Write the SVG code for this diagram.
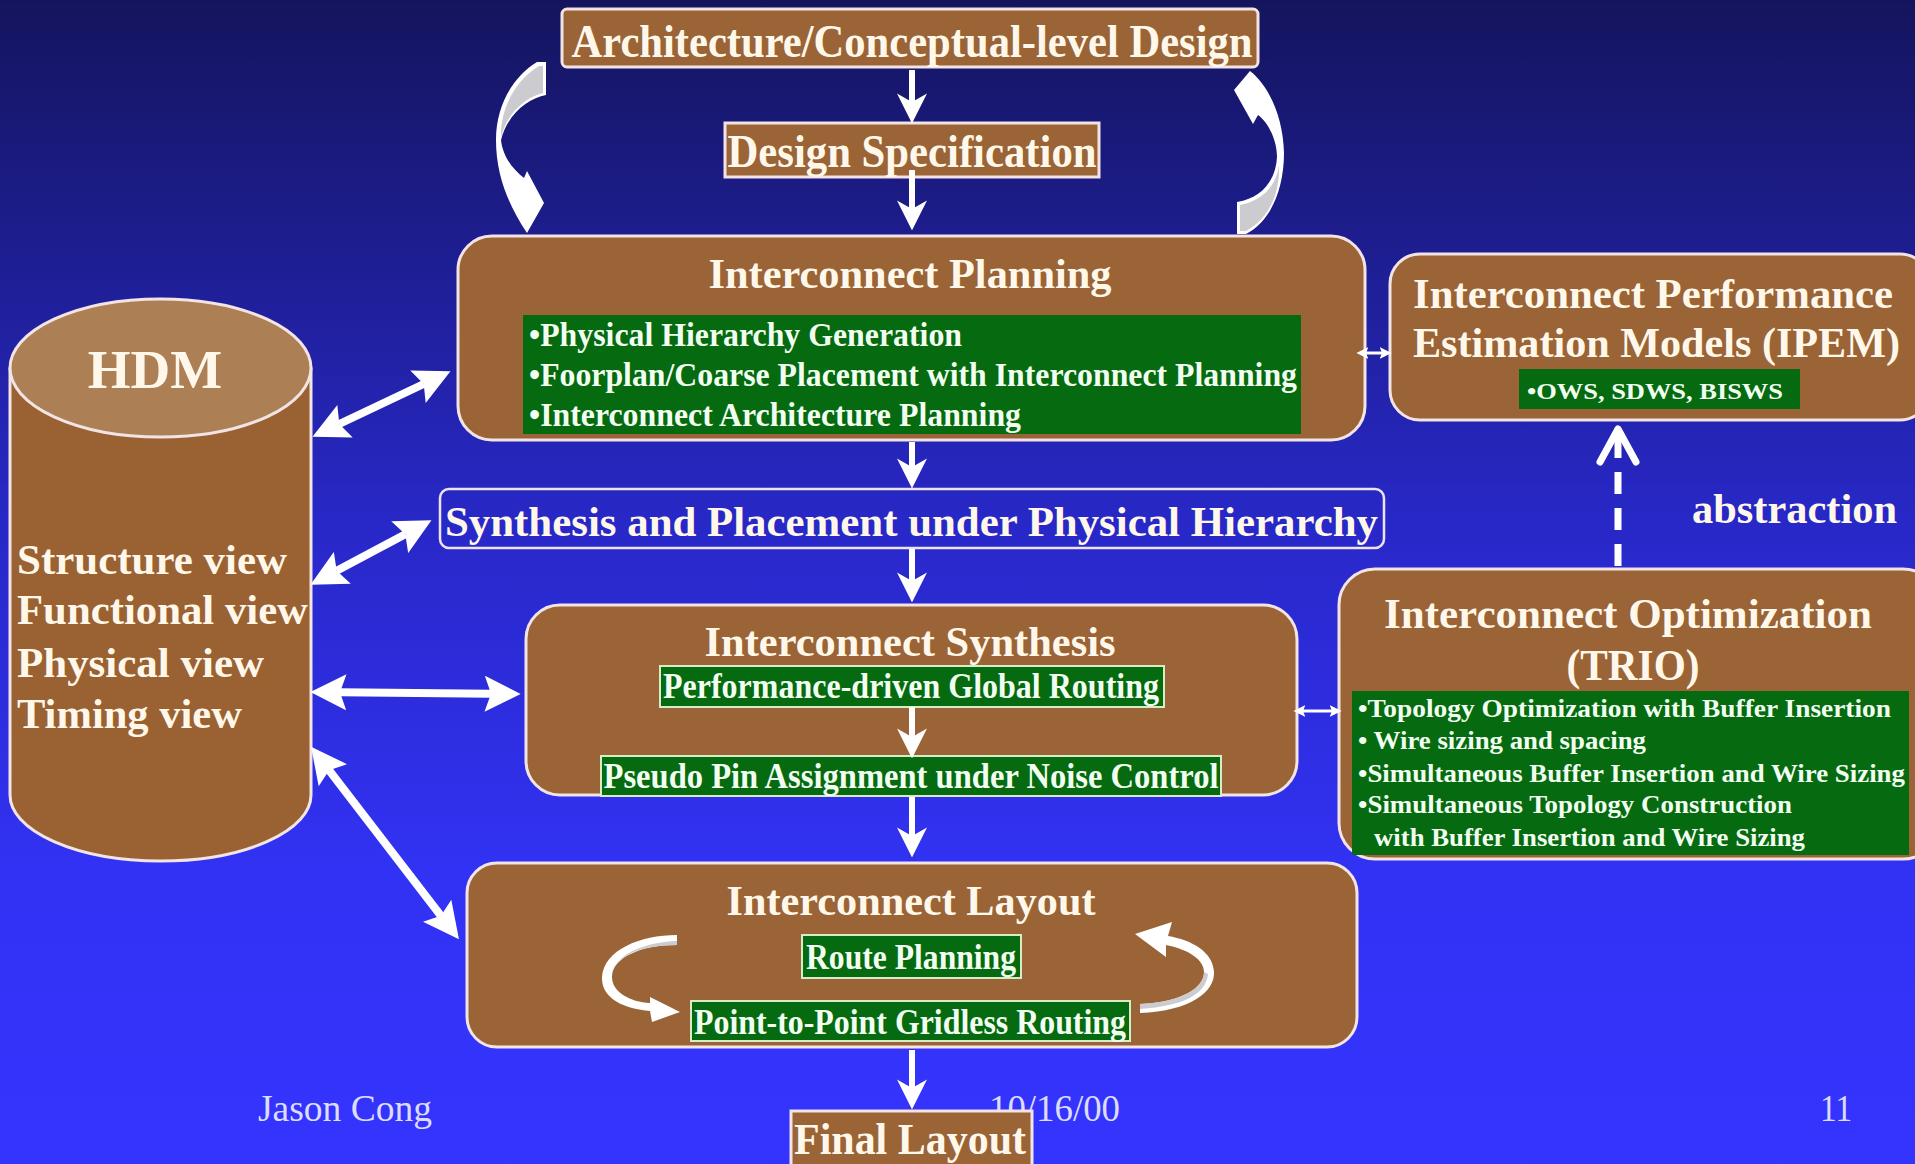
<svg xmlns="http://www.w3.org/2000/svg" width="1915" height="1164" viewBox="0 0 1915 1164">
<defs>
<linearGradient id="bg" x1="0" y1="0" x2="0" y2="1">
<stop offset="0" stop-color="#14145e"/>
<stop offset="0.45" stop-color="#2828c8"/>
<stop offset="0.75" stop-color="#3232f4"/>
<stop offset="1" stop-color="#3434ff"/>
</linearGradient>
<marker id="ah" markerUnits="userSpaceOnUse" markerWidth="30" markerHeight="30" viewBox="0 0 28 28" refX="8" refY="14" orient="auto">
<path d="M0,0 L28,14 L0,28 L8,14 Z" fill="#ffffff"/>
</marker>
<marker id="big" markerUnits="userSpaceOnUse" markerWidth="36" markerHeight="36" viewBox="0 0 34 34" refX="6" refY="17" orient="auto-start-reverse">
<path d="M0,0 L34,17 L0,34 L6,17 Z" fill="#ffffff"/>
</marker>
<marker id="sm" markerUnits="userSpaceOnUse" markerWidth="12" markerHeight="12" viewBox="0 0 10 10" refX="2" refY="5" orient="auto-start-reverse">
<path d="M0,0 L10,5 L0,10 L2,5 Z" fill="#ffffff"/>
</marker>
</defs>
<style>
.box{fill:#9a6436;stroke:#f2e4e4;stroke-width:3}
.grn{fill:#056a10}
.grnb{fill:#056a10;stroke:#d8ecc8;stroke-width:2}
.t{font-family:"Liberation Serif","Times New Roman",serif;fill:#fff8ea;font-weight:bold}
.g{font-family:"Liberation Serif","Times New Roman",serif;fill:#f2fff0;font-weight:bold}
.ft{font-family:"Liberation Serif","Times New Roman",serif;fill:#dcdcff;font-size:38px}
.c{text-anchor:middle}
.arr{stroke:#ffffff;stroke-width:6;fill:none}
.bigarr{stroke:#ffffff;stroke-width:8;fill:none}
.smarr{stroke:#ffffff;stroke-width:3;fill:none}
.cw{fill:#ffffff}
.cg{fill:#cbcbd0}
</style>
<rect x="0" y="0" width="1915" height="1164" fill="url(#bg)"/>

<g id="footer">
<text class="ft" x="258" y="1121" textLength="174" lengthAdjust="spacingAndGlyphs">Jason Cong</text>
<text class="ft" x="989" y="1121" textLength="131" lengthAdjust="spacingAndGlyphs">10/16/00</text>
<text class="ft" x="1820" y="1121" textLength="32" lengthAdjust="spacingAndGlyphs">11</text>
</g>

<g id="hdm">
<path d="M10,369 L10,795 A150.5,66 0 0 0 311,795 L311,369 Z" fill="#9a6233" stroke="#f2e4e4" stroke-width="3"/>
<ellipse cx="160.5" cy="368" rx="150.5" ry="69" fill="#ad7f55" stroke="#f2e4e4" stroke-width="3"/>
<text class="t c" x="155" y="388" font-size="55">HDM</text>
<text class="t" x="17" y="574" font-size="42" textLength="270" lengthAdjust="spacingAndGlyphs">Structure view</text>
<text class="t" x="17" y="624" font-size="42" textLength="291" lengthAdjust="spacingAndGlyphs">Functional view</text>
<text class="t" x="17" y="677" font-size="42" textLength="247" lengthAdjust="spacingAndGlyphs">Physical view</text>
<text class="t" x="17" y="728" font-size="42" textLength="225" lengthAdjust="spacingAndGlyphs">Timing view</text>
</g>

<g id="arch">
<rect class="box" x="562" y="9" width="696" height="58" rx="5"/>
<text class="t c" x="912" y="57" font-size="46" textLength="681" lengthAdjust="spacingAndGlyphs">Architecture/Conceptual-level Design</text>
</g>

<g id="spec">
<rect class="box" x="725" y="123" width="374" height="54"/>
<text class="t c" x="912" y="167" font-size="46" textLength="369" lengthAdjust="spacingAndGlyphs">Design Specification</text>
</g>

<g id="planning">
<rect class="box" x="458" y="236" width="907" height="204" rx="34"/>
<text class="t c" x="910" y="288" font-size="43" textLength="403" lengthAdjust="spacingAndGlyphs">Interconnect Planning</text>
<rect class="grn" x="523" y="315" width="778" height="119"/>
<text class="g" x="529" y="346" font-size="33" textLength="433" lengthAdjust="spacingAndGlyphs">•Physical Hierarchy Generation</text>
<text class="g" x="529" y="386" font-size="33" textLength="768" lengthAdjust="spacingAndGlyphs">•Foorplan/Coarse Placement with Interconnect Planning</text>
<text class="g" x="529" y="426" font-size="33" textLength="492" lengthAdjust="spacingAndGlyphs">•Interconnect Architecture Planning</text>
</g>

<g id="ipem">
<rect class="box" x="1390" y="254" width="540" height="166" rx="30"/>
<text class="t" x="1413" y="308" font-size="42" textLength="480" lengthAdjust="spacingAndGlyphs">Interconnect Performance</text>
<text class="t" x="1413" y="357" font-size="42" textLength="487" lengthAdjust="spacingAndGlyphs">Estimation Models (IPEM)</text>
<rect class="grn" x="1519" y="369" width="281" height="40"/>
<text class="g" x="1527" y="399" font-size="24" textLength="256" lengthAdjust="spacingAndGlyphs">•OWS, SDWS,  BISWS</text>
</g>

<g id="abstraction">
<text class="t" x="1692" y="523" font-size="42" textLength="205" lengthAdjust="spacingAndGlyphs">abstraction</text>
</g>

<g id="synthplace">
<rect x="440" y="489" width="944" height="59" rx="9" fill="none" stroke="#ece4f4" stroke-width="2.5"/>
<text class="t" x="445" y="536" font-size="42" textLength="933" lengthAdjust="spacingAndGlyphs">Synthesis and Placement under Physical Hierarchy</text>
</g>

<g id="synthesis">
<rect class="box" x="526" y="605" width="771" height="190" rx="34"/>
<text class="t c" x="910" y="656" font-size="43" textLength="411" lengthAdjust="spacingAndGlyphs">Interconnect Synthesis</text>
<rect class="grnb" x="660" y="666" width="504" height="41"/>
<text class="g c" x="911" y="698" font-size="36" textLength="496" lengthAdjust="spacingAndGlyphs">Performance-driven Global Routing</text>
<rect class="grnb" x="601" y="756" width="620" height="40"/>
<text class="g c" x="911" y="788" font-size="35" textLength="615" lengthAdjust="spacingAndGlyphs">Pseudo Pin Assignment  under Noise Control</text>
</g>

<g id="trio">
<rect class="box" x="1339" y="569" width="600" height="290" rx="36"/>
<text class="t c" x="1628" y="628" font-size="43" textLength="488" lengthAdjust="spacingAndGlyphs">Interconnect Optimization</text>
<text class="t c" x="1633" y="680" font-size="45" textLength="133" lengthAdjust="spacingAndGlyphs">(TRIO)</text>
<rect class="grn" x="1352" y="691" width="557" height="164"/>
<text class="g" x="1358" y="717" font-size="25" textLength="533" lengthAdjust="spacingAndGlyphs">•Topology Optimization with  Buffer Insertion</text>
<text class="g" x="1358" y="749" font-size="25" textLength="288" lengthAdjust="spacingAndGlyphs">• Wire sizing and spacing</text>
<text class="g" x="1358" y="782" font-size="25" textLength="547" lengthAdjust="spacingAndGlyphs">•Simultaneous Buffer Insertion and Wire Sizing</text>
<text class="g" x="1358" y="813" font-size="25" textLength="434" lengthAdjust="spacingAndGlyphs">•Simultaneous Topology Construction</text>
<text class="g" x="1374" y="846" font-size="25" textLength="431" lengthAdjust="spacingAndGlyphs">with Buffer Insertion and Wire Sizing</text>
</g>

<g id="layout">
<rect class="box" x="467" y="863" width="890" height="184" rx="30"/>
<text class="t c" x="911" y="915" font-size="43" textLength="369" lengthAdjust="spacingAndGlyphs">Interconnect Layout</text>
<rect class="grnb" x="802" y="935" width="219" height="43"/>
<text class="g c" x="911" y="969" font-size="35" textLength="210" lengthAdjust="spacingAndGlyphs">Route Planning</text>
<rect class="grnb" x="691" y="1001" width="439" height="40"/>
<text class="g c" x="910" y="1034" font-size="36" textLength="432" lengthAdjust="spacingAndGlyphs">Point-to-Point Gridless Routing</text>
</g>

<g id="final">
<rect class="box" x="791" y="1111" width="241" height="60"/>
<text class="t c" x="910" y="1154" font-size="45" textLength="232" lengthAdjust="spacingAndGlyphs">Final Layout</text>
</g>

<g id="connectors">
<line class="arr" x1="912" y1="70" x2="912" y2="102" marker-end="url(#ah)"/>
<line class="arr" x1="912" y1="170" x2="912" y2="209" marker-end="url(#ah)"/>
<line class="arr" x1="912" y1="442" x2="912" y2="467" marker-end="url(#ah)"/>
<line class="arr" x1="912" y1="549" x2="912" y2="581" marker-end="url(#ah)"/>
<line class="arr" x1="912" y1="707" x2="912" y2="737" marker-end="url(#ah)"/>
<line class="arr" x1="912" y1="797" x2="912" y2="836" marker-end="url(#ah)"/>
<line class="arr" x1="912" y1="1050" x2="912" y2="1088" marker-end="url(#ah)"/>

<line class="bigarr" x1="339.3" y1="424" x2="423.7" y2="384" marker-start="url(#big)" marker-end="url(#big)"/>
<line class="bigarr" x1="336.7" y1="570.8" x2="405.3" y2="534.2" marker-start="url(#big)" marker-end="url(#big)"/>
<line class="bigarr" x1="340" y1="692.3" x2="491" y2="693.7" marker-start="url(#big)" marker-end="url(#big)"/>
<line class="bigarr" x1="329.1" y1="770.2" x2="440.9" y2="915.8" marker-start="url(#big)" marker-end="url(#big)"/>

<line class="smarr" x1="1366" y1="353" x2="1382" y2="353" marker-start="url(#sm)" marker-end="url(#sm)"/>
<line class="smarr" x1="1303" y1="711" x2="1332" y2="711" marker-start="url(#sm)" marker-end="url(#sm)"/>

<line x1="1618" y1="566" x2="1618" y2="434" stroke="#ffffff" stroke-width="7" stroke-dasharray="22 14"/>
<polyline points="1600,462 1618,429 1636,462" fill="none" stroke="#ffffff" stroke-width="7" stroke-linejoin="round" stroke-linecap="round"/>

<path class="cw" d="M537,62 L546,62 L546,95 C528,98 507,115 501,140 C503,158 514,170 524,178 L527,171 L544,203 L527,233 C509,206 496,176 496,140 C496,104 514,76 537,62 Z"/>
<path class="cg" d="M539,66 L543,66 L543,93 C526,97 507,113 501,137 C500,110 515,80 539,66 Z"/>
<path class="cw" d="M1250,71 C1268,85 1283,115 1284,153 C1284,190 1270,222 1246,234 L1237,234 L1237,202 C1262,198 1276,180 1277,157 C1277,140 1268,122 1258,115 L1253,124 L1234,90 Z"/>
<path class="cg" d="M1240,231 L1240,205 C1262,201 1276,186 1279,166 C1280,196 1267,220 1246,231 Z"/>
<path class="cw" d="M677,935 C640,935 604,950 602,977 C601,999 625,1009 650,1011 L652,1022 L680,1012 L650,997 L650,1003 C630,1002 612,992 612,977 C612,958 640,945 677,945 Z"/>
<path class="cg" d="M677,941 C643,942 613,956 612,975 C611,962 632,945 677,945 Z"/>
<path class="cw" d="M1140,1013 C1190,1011 1215,992 1214,972 C1213,952 1192,940 1168,936 L1172,922 L1135,934 L1166,957 L1166,945 C1190,950 1204,960 1204,972 C1204,988 1182,1002 1140,1004 Z"/>
<path class="cg" d="M1140,1004 C1182,1002 1204,988 1204,972 L1208,974 C1206,994 1184,1006 1140,1009 Z"/>
</g>
</svg>
